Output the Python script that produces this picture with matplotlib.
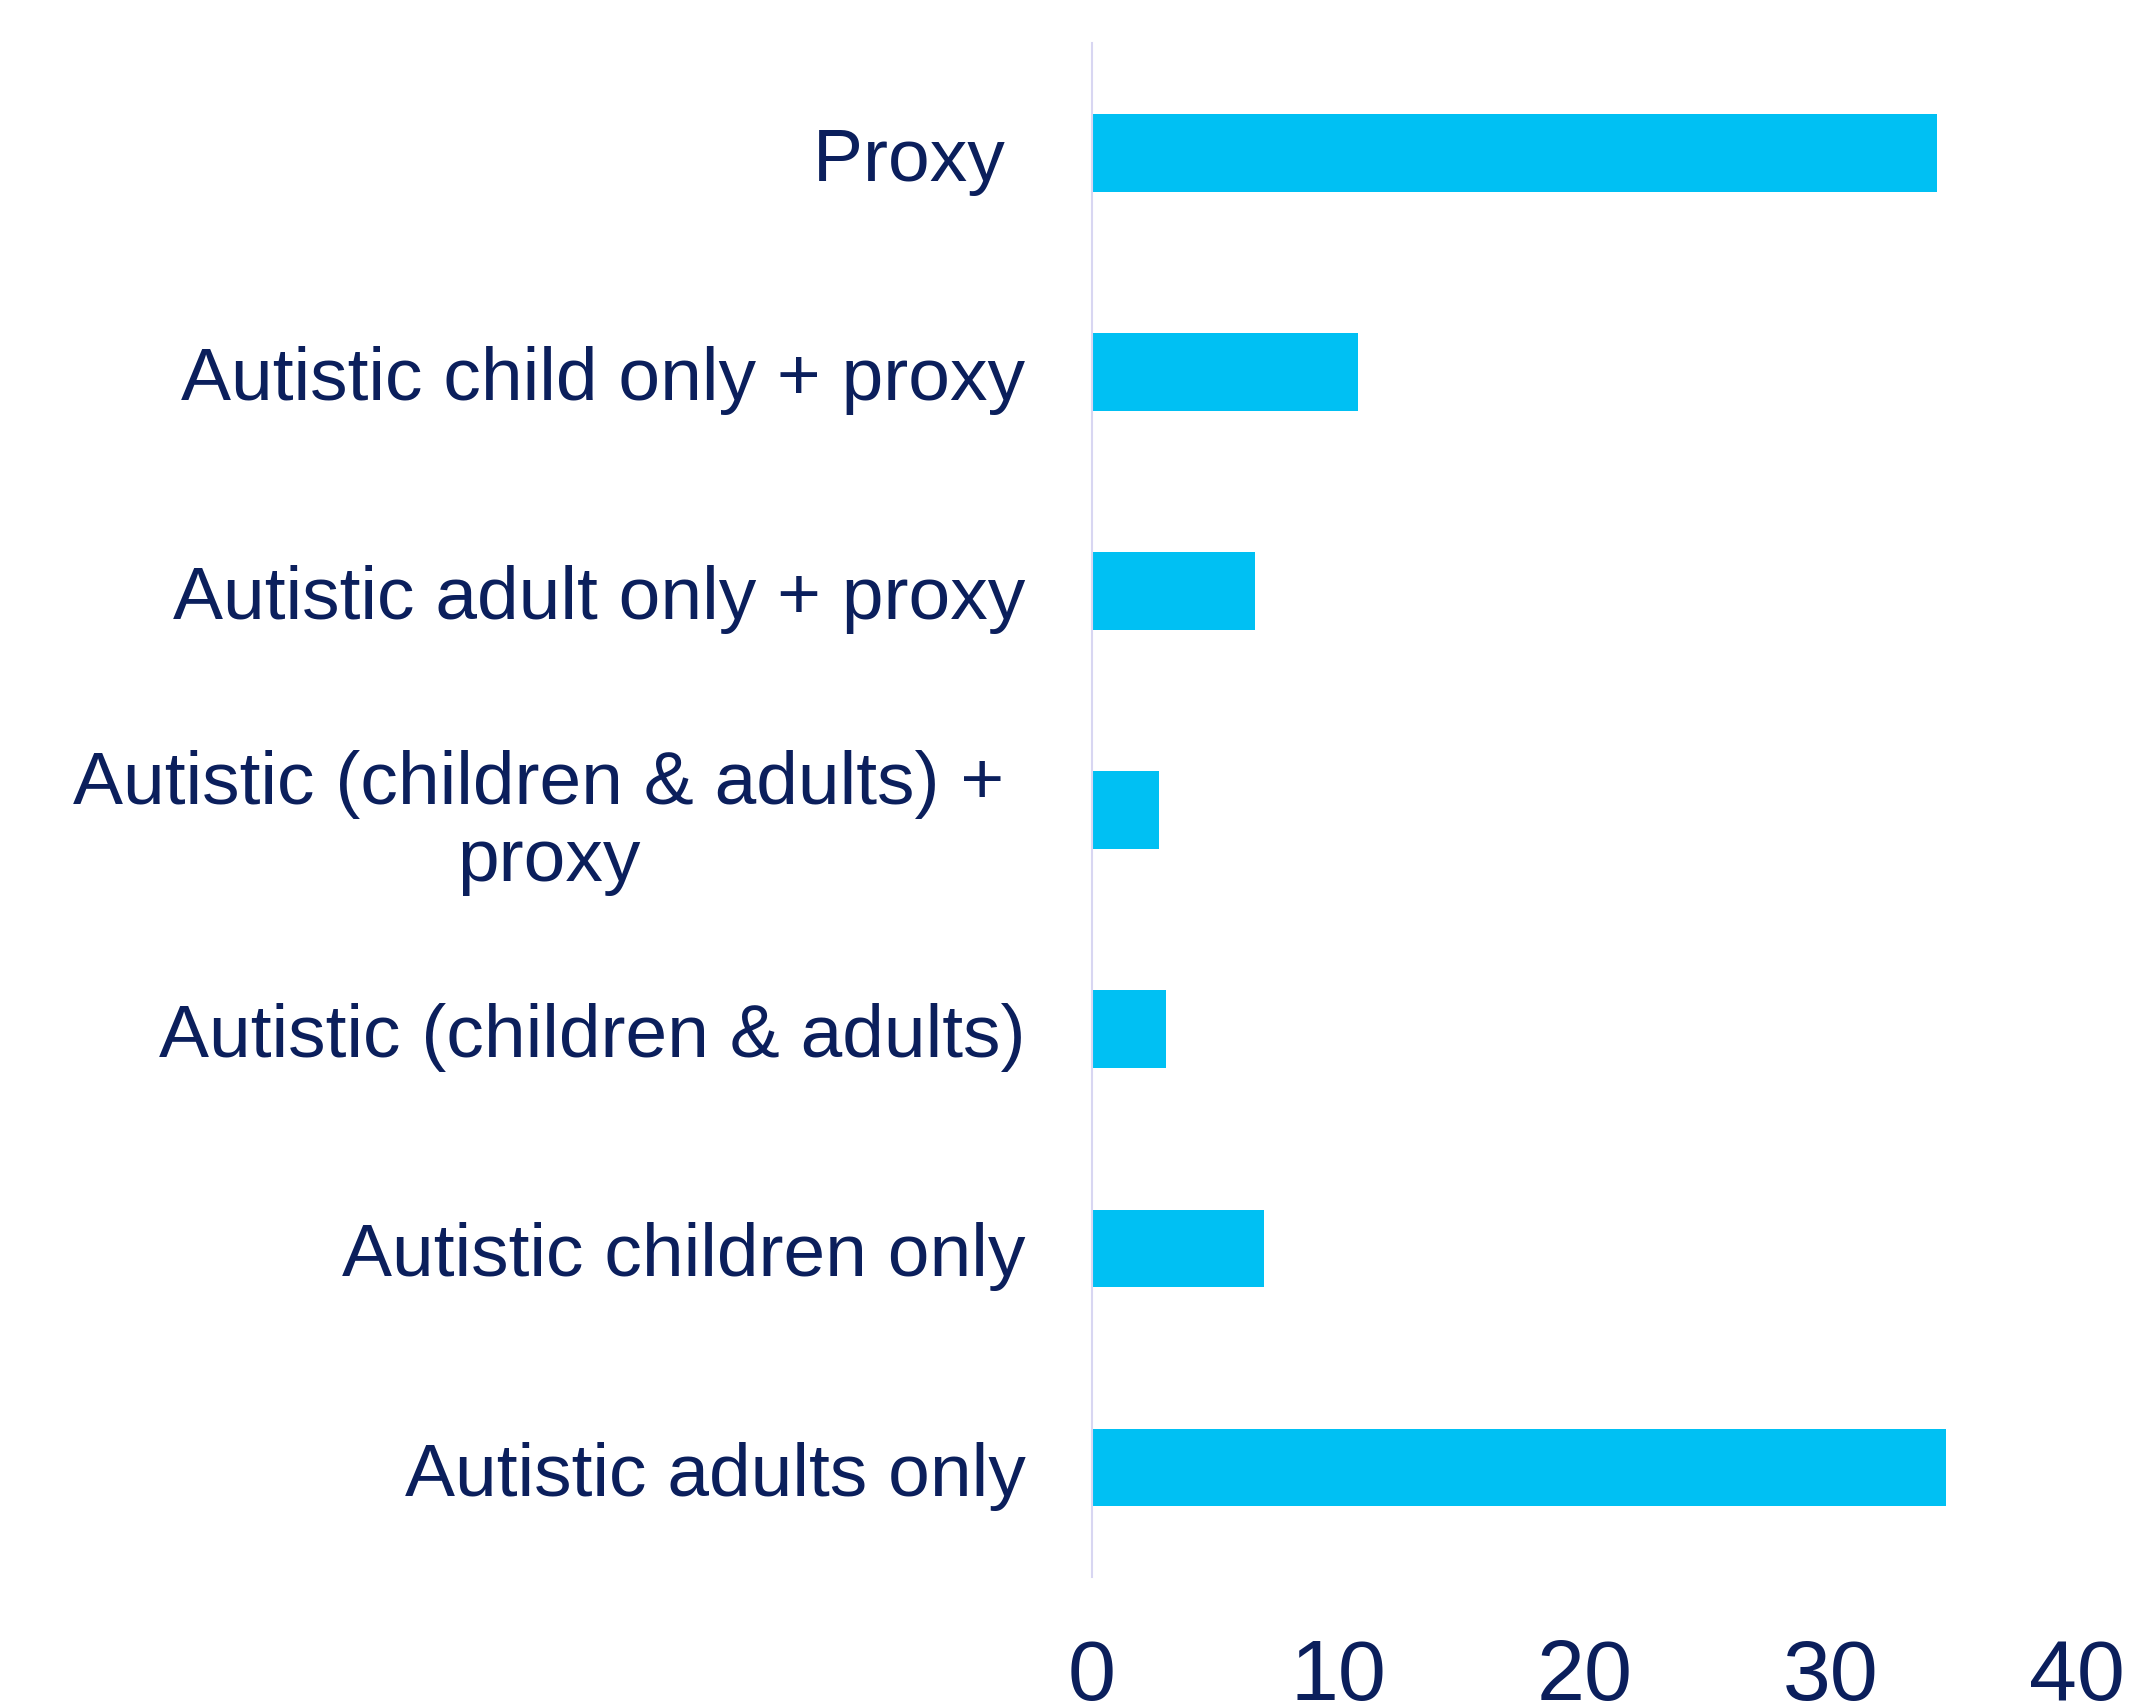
import matplotlib
matplotlib.use("Agg")
import matplotlib.pyplot as plt

# survey respondent groups (bottom to top) and their share, %
groups = [
    "Autistic adults only",
    "Autistic children only",
    "Autistic (children & adults)",
    "Autistic (children & adults) + \nproxy",
    "Autistic adult only + proxy",
    "Autistic child only + proxy",
    "Proxy ",
]
shares = [34.7, 7.0, 3.0, 2.7, 6.6, 10.8, 34.3]
xticks = [0, 10, 20, 30, 40]

navy = "#0B1F5C"
barColor = "#00C0F3"

plt.rcParams["font.family"] = ["Liberation Sans", "DejaVu Sans"]

fig = plt.figure(figsize=(21.33, 17.06), dpi=100)
ax = fig.add_axes([0.512, 0.075, 0.4617, 0.899])

ax.barh(range(len(groups)), shares, height=0.355, color=barColor)

ax.set_xlim(0, 40)
ax.set_ylim(-0.5, len(groups) - 0.5)
ax.set_xticks(xticks)
ax.set_xticklabels([str(t) for t in xticks], fontsize=62, color=navy)
ax.set_yticks(range(len(groups)))
ax.set_yticklabels(groups, fontsize=54, color=navy, multialignment="center",
                   linespacing=1.15)
ax.tick_params(axis="x", length=0, pad=43)
ax.tick_params(axis="y", length=0, pad=48)

for side in ["top", "right", "bottom"]:
    ax.spines[side].set_visible(False)
ax.spines["left"].set_color("#D8D6F2")
ax.spines["left"].set_linewidth(1.5)

fig.savefig("out.png", dpi=100)
